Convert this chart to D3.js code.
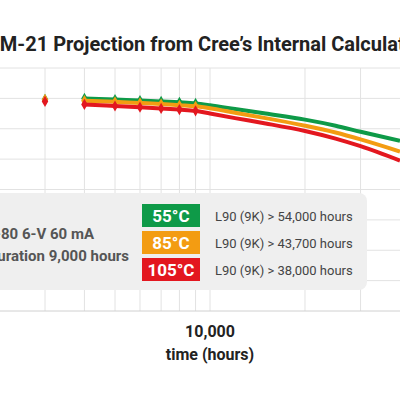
<!DOCTYPE html>
<html>
<head>
  <meta charset="utf-8">
  <style>
    body { margin: 0; background: #fff; }
    text { font-family: Roboto, "Open Sans", sans-serif; }
  </style>
</head>
<body>
  <div id='chart'></div>
  <script src="https://d3js.org/d3.v7.min.js"></script>
  <script>
    let hours = [4000, 5000, 6000, 7000, 8000, 9000, 10000, 12000, 15000, 20000, 25000, 30000, 40000];
    let measured = 6; // first 6 points carry markers
    let green = [100.0, 99.92, 99.86, 99.8, 99.74, 99.67, 99.55, 99.3, 99.0, 98.6, 98.2, 97.8, 97.2];
    let orange = [99.85, 99.77, 99.7, 99.63, 99.55, 99.48, 99.35, 99.05, 98.7, 98.2, 97.75, 97.3, 96.5];
    let red = [99.6, 99.5, 99.42, 99.34, 99.26, 99.18, 99.0, 98.7, 98.35, 97.85, 97.35, 96.85, 95.9];
    let startHour = 3000;
    let startPct = [99.93, 99.93, 99.8];
    let gridX = [3000, 4000, 5000, 6000, 7000, 8000, 9000, 10000, 20000, 30000];
    let gridY = [102, 100, 98, 96, 94, 92, 90, 88, 86];
    let temps = ['55°C', '85°C', '105°C'];
    let colors = ['#0e9a48', '#f39c12', '#e3171f'];
    let l90 = ['L90 (9K) > 54,000 hours', 'L90 (9K) > 43,700 hours', 'L90 (9K) > 38,000 hours'];

    let svg = d3.select('#chart').append('svg').attr('width', 400).attr('height', 400);

    let x = d3.scaleLog().domain([3000, 10000]).range([45, 210]);
    let y = d3.scaleLinear().domain([102, 86]).range([68, 311]);

    svg.append('text').attr('x', -11).attr('y', 51)
      .style('font-size', '20px').style('font-weight', 'bold').attr('fill', '#222')
      .text('LM-21 Projection from Cree’s Internal Calculator');

    svg.selectAll('.gx').data(gridX).enter().append('line')
      .attr('x1', d => x(d)).attr('x2', d => x(d)).attr('y1', 68).attr('y2', 311)
      .attr('stroke', '#e2e2e2');
    svg.selectAll('.gy').data(gridY).enter().append('line')
      .attr('x1', 0).attr('x2', 400).attr('y1', d => y(d)).attr('y2', d => y(d))
      .attr('stroke', d => d === 86 ? '#d0d0d0' : '#e2e2e2');

    let line = d3.line().x(d => x(d[0])).y(d => y(d[1])).curve(d3.curveMonotoneX);
    let series = [green, orange, red];
    let diamond = d3.symbol().type(d3.symbolDiamond).size(36);
    series.forEach(function(s, k) {
      let pts = hours.map((h, i) => [h, s[i]]);
      svg.append('path').attr('d', line(pts)).attr('fill', 'none')
        .attr('stroke', colors[k]).attr('stroke-width', 4);
      svg.selectAll('.m' + k).data(pts.slice(0, measured).concat([[startHour, startPct[k]]]))
        .enter().append('path').attr('d', diamond)
        .attr('transform', d => 'translate(' + x(d[0]) + ',' + y(d[1]) + ')')
        .attr('fill', colors[k]);
    });

    // legend panel
    svg.append('rect').attr('x', -20).attr('y', 193).attr('width', 387).attr('height', 97)
      .attr('rx', 8).attr('fill', '#efefef');
    svg.append('text').attr('x', 94).attr('y', 239).attr('text-anchor', 'end')
      .style('font-size', '15px').style('font-weight', 'bold').attr('fill', '#555')
      .text('LM-80 6-V   60   mA');
    svg.append('text').attr('x', 129).attr('y', 261).attr('text-anchor', 'end')
      .style('font-size', '15px').style('font-weight', 'bold').attr('fill', '#555')
      .text('Test duration 9,000 hours');
    temps.forEach(function(t, i) {
      let top = 204 + i * 27;
      svg.append('rect').attr('x', 142).attr('y', top).attr('width', 58).attr('height', 23)
        .attr('fill', colors[i]);
      svg.append('text').attr('x', 171).attr('y', top + 18).attr('text-anchor', 'middle')
        .style('font-size', '17px').style('font-weight', 'bold').attr('fill', '#fff').text(t);
      svg.append('text').attr('x', 215).attr('y', top + 17)
        .style('font-size', '13px').attr('fill', '#444').text(l90[i]);
    });

    svg.append('text').attr('x', x(10000)).attr('y', 337).attr('text-anchor', 'middle')
      .style('font-size', '16px').style('font-weight', 'bold').attr('fill', '#222').text('10,000');
    svg.append('text').attr('x', x(10000)).attr('y', 360).attr('text-anchor', 'middle')
      .style('font-size', '16px').style('font-weight', 'bold').attr('fill', '#222').text('time (hours)');
  </script>
</body>
</html>
